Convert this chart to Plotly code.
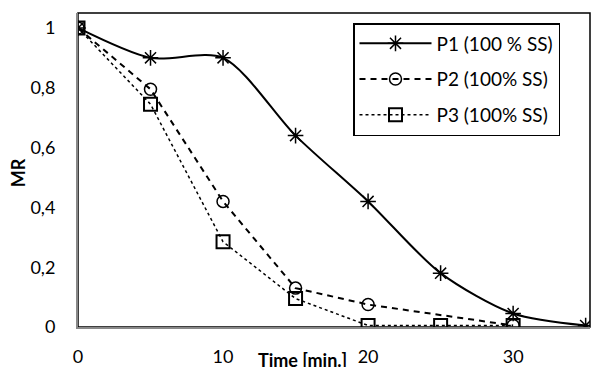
import plotly.graph_objects as go

time_p1 = [0, 5, 10, 15, 20, 25, 30, 35]
mr_p1 = [1, 0.9, 0.9, 0.64, 0.42, 0.18, 0.045, 0.005]
time_p2 = [0, 5, 10, 15, 20, 30]
mr_p2 = [1, 0.795, 0.42, 0.13, 0.075, 0.005]
time_p3 = [0, 5, 10, 15, 20, 25, 30]
mr_p3 = [1, 0.745, 0.285, 0.095, 0.005, 0.005, 0.005]
names = ["P1 (100 % SS)", "P2 (100% SS)", "P3 (100% SS)"]
x_ticks = [0, 10, 20, 30]
y_ticks = [0, 0.2, 0.4, 0.6, 0.8, 1]
y_tick_text = ["0", "0,2", "0,4", "0,6", "0,8", "1"]

FONT = "Lato, Open Sans, sans-serif"

# page body has an 8px offset; figure sized to fit the 600x367 window
W, H = 592, 359
L, R, T, B = 70, 10, 5, 40
PW = W - L - R
PH = H - T - B

fig = go.Figure()
fig.add_trace(go.Scatter(x=time_p1, y=mr_p1, name=names[0], mode="lines+markers", legendgroup="a",
                         line=dict(color="black", width=2, shape="spline", smoothing=0.8),
                         marker=dict(symbol="asterisk-open", size=13, color="black",
                                     line=dict(color="black", width=1.5))))
fig.add_trace(go.Scatter(x=time_p2, y=mr_p2, name=names[1], mode="lines+markers", legendgroup="b",
                         line=dict(color="black", width=2, dash="6px,5px"),
                         marker=dict(symbol="circle-open", size=12, color="black",
                                     line=dict(color="black", width=1.5))))
fig.add_trace(go.Scatter(x=time_p3, y=mr_p3, name=names[2], mode="lines+markers", legendgroup="c",
                         line=dict(color="black", width=1.5, dash="dot"),
                         marker=dict(symbol="square-open", size=13, color="black",
                                     line=dict(color="black", width=2))))

fig.add_shape(type="rect", xref="paper", yref="paper", x0=0, y0=0, x1=1, y1=1,
              line=dict(color="black", width=1.5), layer="below")

fig.add_annotation(text="<b>Time [min.]</b>", xref="paper", yref="paper",
                   x=(294 - L) / PW, y=0, yshift=-20, xanchor="center", yanchor="top",
                   showarrow=False, font=dict(size=18, family=FONT))
fig.add_annotation(text="<b>MR</b>", xref="paper", yref="paper", textangle=-90,
                   x=(10 - L) / PW, y=0.49, xanchor="center", yanchor="middle",
                   showarrow=False, font=dict(size=18, family=FONT))

fig.update_layout(
    width=W, height=H,
    margin=dict(l=L, r=R, t=T, b=B),
    paper_bgcolor="white", plot_bgcolor="white",
    font=dict(family=FONT, size=18, color="black"),
    showlegend=True,
    legend=dict(x=(345 - L) / PW, y=(PH - 10) / PH, xanchor="left", yanchor="top",
                bordercolor="black", borderwidth=1.5, bgcolor="white",
                font=dict(size=19, family=FONT), tracegroupgap=8,
                itemwidth=72),
    xaxis=dict(range=[0, 35.3], tickvals=x_ticks, ticktext=[str(v) for v in x_ticks],
               showgrid=False, zeroline=False, showline=True, linecolor="#888888",
               linewidth=2, ticks="", tickfont=dict(size=18), ticklabelstandoff=12,
               automargin=False),
    yaxis=dict(range=[0, 1.05], tickvals=y_ticks, ticktext=y_tick_text,
               showgrid=False, zeroline=False, showline=True, linecolor="#888888",
               linewidth=2, ticks="", tickfont=dict(size=18), ticklabelstandoff=17,
               automargin=False),
)

fig.write_html("out.html")
